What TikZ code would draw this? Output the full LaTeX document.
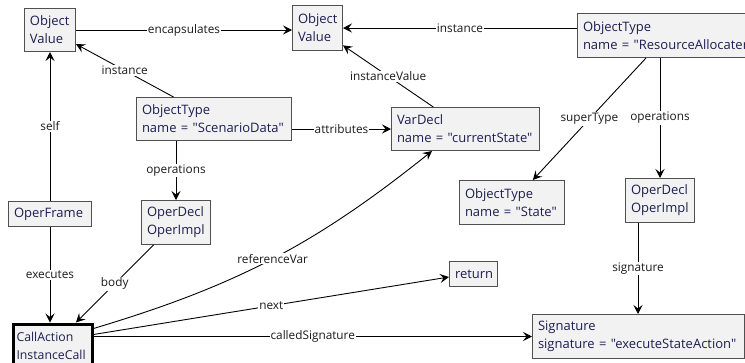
\documentclass[tikz,border=0pt]{standalone}
\usepackage{fontspec}
\newfontfamily\uifont{Open Sans}
\usetikzlibrary{arrows.meta,calc}
\definecolor{boxfill}{HTML}{F2F2F2}
\definecolor{boxline}{HTML}{505050}
\definecolor{boxtext}{HTML}{1E1E50}
\definecolor{edgetext}{HTML}{1A1A1A}
\begin{document}
\begin{tikzpicture}[x=1pt,y=-1pt,
  obj/.style={draw=boxline, fill=boxfill, line width=1pt, anchor=north west,
    inner xsep=5.5pt, inner ysep=0pt, align=left, text=boxtext,
    font=\uifont\fontsize{13}{18}\selectfont},
  link/.style={line width=0.9pt, -{Stealth[length=9pt,width=9pt,inset=3.5pt]}},
  lbl/.style={fill=white, inner sep=1pt, text=edgetext,
    font=\uifont\fontsize{11.8}{14}\selectfont, pos=0.5}]
\useasboundingbox (0,0) rectangle (745,362);
\clip (0,0) rectangle (745,362);

% objects
\node[obj, text width=40pt, minimum height=43pt] (ov1) at (24,8) {Object\\Value};
\node[obj, text width=39pt, minimum height=45pt] (ov2) at (292,5) {Object\\Value};
\node[obj, text width=240pt, minimum height=44pt] (ora) at (577,13)
  {ObjectType\\\mbox{name = "ResourceAllocater"}};
\node[obj, text width=144pt, minimum height=43pt] (sd) at (136,97)
  {ObjectType\\\mbox{name = "ScenarioData"}};
\node[obj, text width=137pt, minimum height=43pt] (vd) at (391,107)
  {VarDecl\\\mbox{name = "currentState"}};
\node[obj, text width=94pt, minimum height=44pt] (st) at (459,180)
  {ObjectType\\\mbox{name = "State"}};
\node[obj, text width=58pt, minimum height=44pt] (od2) at (625,178) {OperDecl\\OperImpl};
\node[obj, text width=72pt, minimum height=25pt] (of) at (8,201) {OperFrame};
\node[obj, text width=58pt, minimum height=44pt] (od1) at (141,200) {OperDecl\\OperImpl};
\node[obj, text width=37pt, minimum height=25pt] (ret) at (449,261) {return};
\node[obj, text width=201pt, minimum height=44pt] (sig) at (532,314)
  {Signature\\\mbox{signature = "executeStateAction"}};
\node[obj, line width=3pt, draw=black, inner xsep=3.5pt, text width=72pt, minimum height=44pt,
  font=\uifont\fontsize{12.3}{18}\selectfont]
  (ca) at (11.5,322.5) {CallAction\\\mbox{InstanceCall}};

% references
\draw[link] (ov1.east) -- node[lbl]{encapsulates} (ov2.west |- ov1.east);
\draw[link] (ora.west |- ov2.east) -- node[lbl]{instance} (ov2.east);
\draw[link] (sd) -- node[lbl]{instance} (ov1);
\draw[link] (of) -- node[lbl]{self} (ov1);
\draw[link] (sd.east |- vd.west) -- node[lbl]{attributes} (vd.west);
\draw[link] (vd) -- node[lbl]{instanceValue} (ov2);
\draw[link] (od1.north |- sd.south) -- node[lbl]{operations} (od1.north);
\coordinate (supsrc) at ($(ora.south west)+(69,0)$);
\draw[link] (supsrc) -- node[lbl]{superType} (st);
\draw[link] (od2.north |- ora.south) -- node[lbl]{operations} (od2.north);
\coordinate (sigsrc) at ($(od2.south west)+(13,0)$);
\draw[link] (sigsrc) -- node[lbl]{signature} (sigsrc |- sig.north);
\draw[link] (of.south) -- node[lbl]{executes} (of.south |- ca.north);
\draw[link] (od1) -- node[lbl]{body} (ca);
\coordinate (refdst) at ($(vd.south west)+(41,0)$);
\draw[link] ($(ca.north east)+(0,6)$) to[bend right=11] node[lbl]{referenceVar} (refdst);
\draw[link] ($(ca.north east)+(0,12)$) -- node[lbl]{next} ($(ret.west)+(0,3)$);
\draw[link] (ca.east |- sig.west) -- node[lbl]{calledSignature} (sig.west);
\end{tikzpicture}
\end{document}
